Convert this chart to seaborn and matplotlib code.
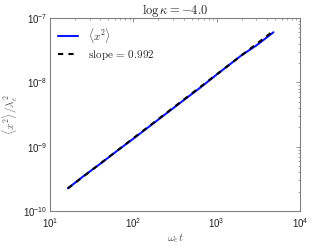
import numpy as np
import pandas as pd
import matplotlib
matplotlib.use("Agg")
import matplotlib.pyplot as plt
import seaborn as sns

t_vals = [16.4, 25, 40, 63, 100, 160, 250, 400, 630, 1000, 1400, 2000, 3000, 4800]
msd_vals = [2.25e-10, 3.45e-10, 5.4e-10, 8.5e-10, 1.33e-9, 2.12e-9, 3.3e-9, 5.25e-9, 8.2e-9, 1.32e-8, 1.85e-8, 2.65e-8, 3.75e-8, 6.0e-8]
slope = 0.992
fit_t = [16.4, 4800]
fit_a = 2.25e-10 / 16.4 ** slope
fit_vals = [fit_a * v ** slope for v in fit_t]

title = r"$\log\kappa = -4.0$"
label_data = r"$\langle x^2\rangle$"
label_fit = r"$\mathrm{slope}\,=\,0.992$"

sns.set_theme(style="white")
plt.rcParams["mathtext.fontset"] = "cm"
plt.rcParams["font.family"] = ["Liberation Sans", "DejaVu Sans"]

fig = plt.figure(figsize=(3.32, 2.49), dpi=100)
ax = fig.add_axes([50 / 332, 1 - 211 / 249, 250 / 332, 193 / 249])

df = pd.DataFrame({"t": t_vals, "msd": msd_vals})
df_fit = pd.DataFrame({"t": fit_t, "msd": fit_vals})
sns.lineplot(data=df, x="t", y="msd", ax=ax, color="#0a14ff", lw=1.5, label=label_data)
sns.lineplot(data=df_fit, x="t", y="msd", ax=ax, color="black", lw=1.5, ls=(0, (2.5, 2.5)), label=label_fit)

ax.set_xscale("log")
ax.set_yscale("log")
ax.set_xlim(10, 1e4)
ax.set_ylim(1e-10, 1e-7)

for s in ax.spines.values():
    s.set_color("#808080")
    s.set_linewidth(0.8)
ax.tick_params(which="both", direction="in", top=True, right=True, color="#808080",
               labelsize=7, labelcolor="#222222", pad=2)
ax.tick_params(axis="x", which="both", pad=4)
ax.tick_params(which="major", length=3, width=0.6)
ax.tick_params(which="minor", length=1.5, width=0.5)
ax.xaxis.set_major_locator(matplotlib.ticker.LogLocator(base=10, numticks=10))
ax.yaxis.set_major_locator(matplotlib.ticker.LogLocator(base=10, numticks=10))
ax.xaxis.set_minor_locator(matplotlib.ticker.LogLocator(base=10, subs=np.arange(2, 10), numticks=20))
ax.yaxis.set_minor_locator(matplotlib.ticker.LogLocator(base=10, subs=np.arange(2, 10), numticks=20))
ax.xaxis.set_minor_formatter(matplotlib.ticker.NullFormatter())
ax.yaxis.set_minor_formatter(matplotlib.ticker.NullFormatter())

ax.set_title(title, fontsize=9, pad=3)
ax.set_xlabel(r"$\omega_e t$", fontsize=8, color="#555555", labelpad=1)
ax.set_ylabel(r"$\langle x^2\rangle/\lambda_e^2$", fontsize=8, color="#555555", labelpad=2)

leg = ax.legend(loc="upper left", frameon=False, fontsize=8, handlelength=1.8,
                borderaxespad=0.3, handletextpad=0.9, labelspacing=0.25)

fig.savefig("out.png", dpi=100)
